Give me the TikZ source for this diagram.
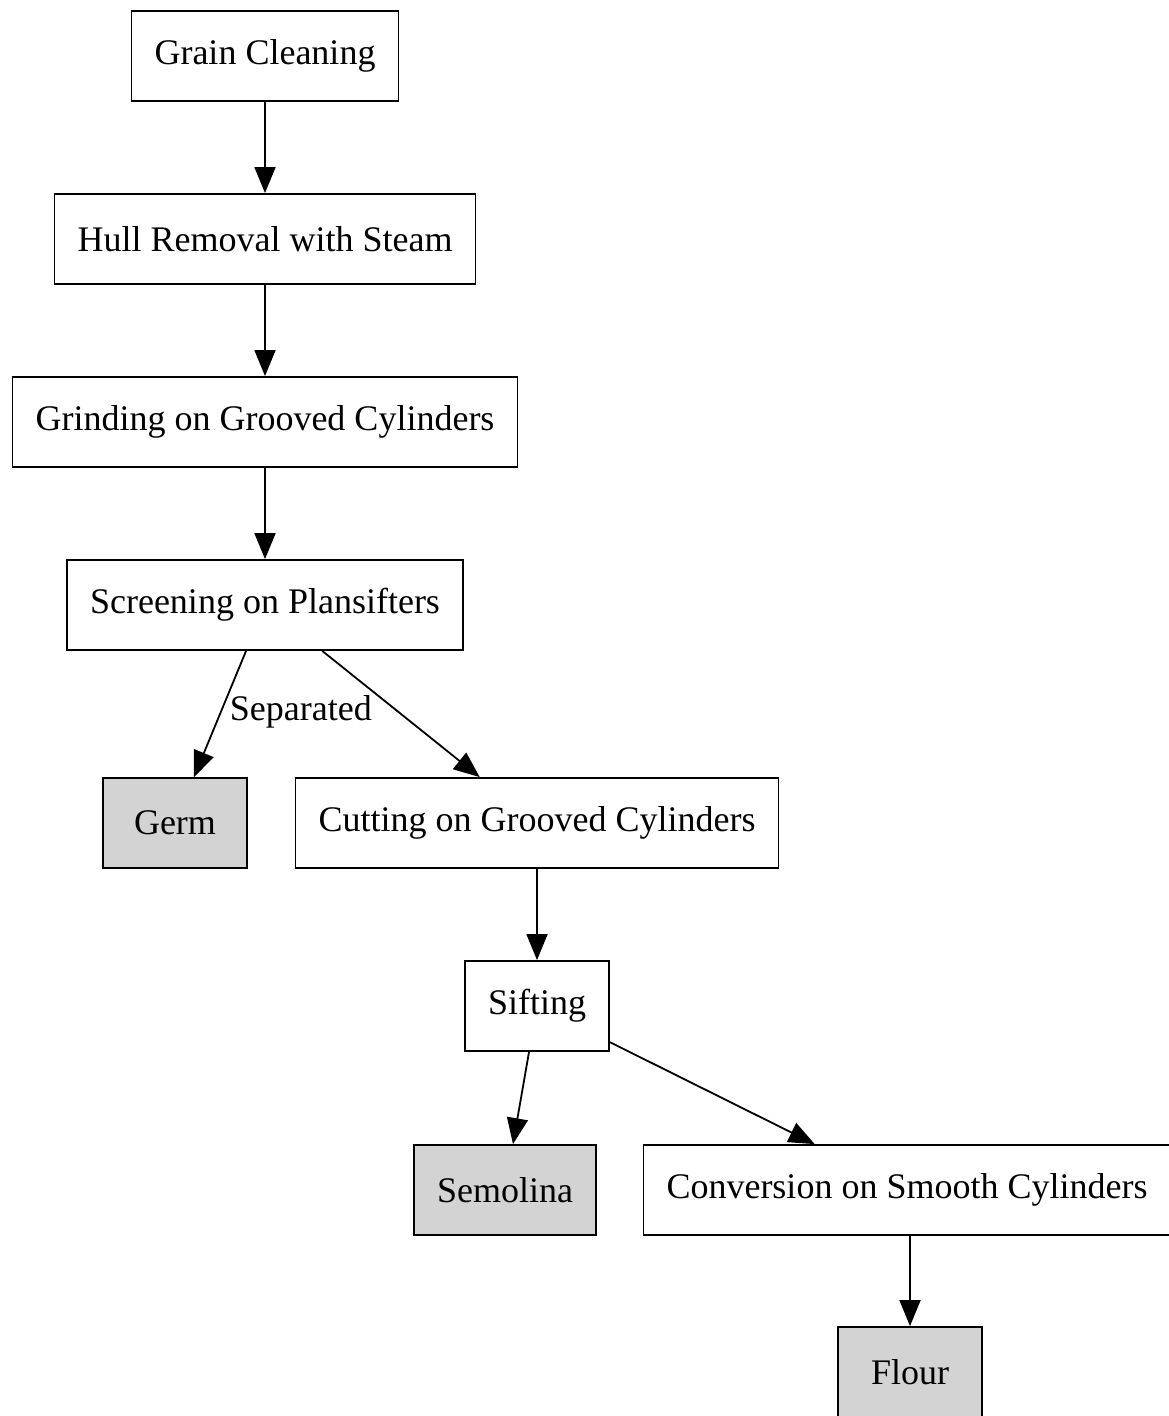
\documentclass[tikz,border=0pt]{standalone}
\usepackage{fontspec}
\setmainfont{Liberation Serif}
\usepackage{tikz}
\usetikzlibrary{arrows.meta}
\definecolor{boxgrey}{RGB}{211,211,211}
\tikzset{
  blk/.style  ={draw=black, fill=white, line width=0.9pt, font=\fontsize{18}{22}\selectfont,
                inner xsep=11.5pt, minimum width=72pt, minimum height=45pt},
  gblk/.style ={blk, fill=boxgrey},
  ar/.style   ={-{Triangle[length=13pt,width=10.5pt]}, draw=black, line width=0.9pt},
  lbl/.style  ={font=\fontsize{18}{22}\selectfont, inner sep=0pt},
}
\begin{document}
\begin{tikzpicture}[x=0.5pt,y=-0.5pt]
\useasboundingbox (0,0) rectangle (1168,1416);

% process chain
\node[blk]  (clean)  at (265,56)   {Grain Cleaning};
\node[blk]  (hull)   at (265,239)  {Hull Removal with Steam};
\node[blk]  (grind)  at (265,422)  {Grinding on Grooved Cylinders};
\node[blk]  (screen) at (265,605)  {Screening on Plansifters};
\node[gblk] (germ)   at (175,823)  {Germ};
\node[blk]  (cut)    at (537,823)  {Cutting on Grooved Cylinders};
\node[blk]  (sift)   at (537,1006) {Sifting};
\node[gblk] (semo)   at (505,1190) {Semolina};
\node[blk]  (conv)   at (907,1190) {Conversion on Smooth Cylinders};
\node[gblk] (flour)  at (910,1372) {Flour};

% arrows
\draw[ar] (clean) -- (hull);
\draw[ar] (hull) -- (grind);
\draw[ar] (grind) -- (screen);
\draw[ar] (screen) -- node[lbl,right=4pt,pos=0.48] {Separated} (germ);
\draw[ar] (screen) -- (cut);
\draw[ar] (cut) -- (sift);
\draw[ar] (sift) -- (semo);
\draw[ar] (sift) -- (conv);
\draw[ar] (conv.south -| flour.north) -- (flour);
\end{tikzpicture}
\end{document}
